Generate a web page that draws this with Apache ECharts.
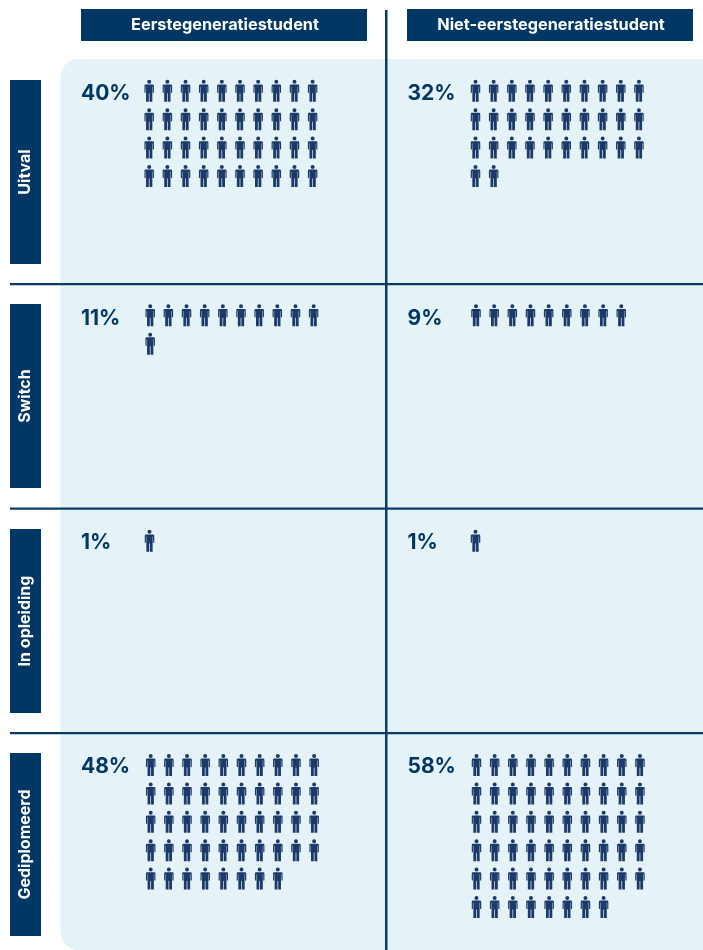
<!DOCTYPE html>
<html><head><meta charset="utf-8">
<style>html,body{margin:0;padding:0;background:#fff}#c{width:703px;height:950px}</style>
<script src="https://cdn.jsdelivr.net/npm/echarts@6/dist/echarts.min.js"></script>
</head><body><div id="c"></div>
<script>
const columnNames = ['Eerstegeneratiestudent', 'Niet-eerstegeneratiestudent'];
const rowNames = ['Uitval', 'Switch', 'In opleiding', 'Gediplomeerd'];
const eerstegeneratie = [40, 11, 1, 48];
const nietEerstegeneratie = [32, 9, 1, 58];
const valuesByColumn = [eerstegeneratie, nietEerstegeneratie];

const NAVY = '#003764', ICON = '#1b3a69', PANEL = '#e5f2f8', LINE = '#083c66';
const FONT = 'Inter, "Noto Sans", sans-serif';
const PERSON = 'path://M4.75 0A2 2 0 1 1 4.75 4A2 2 0 1 1 4.75 0ZM1.2 4.6H8.3Q9.5 4.6 9.5 6V13H8.3V6.6H7.9V22H5.1V13.5H4.4V22H1.6V6.6H1.2V13H0V6Q0 4.6 1.2 4.6Z';

const STEP_X = 18.16, STEP_Y = 28.4, COLS = 10, ROWS = 6;
const firstX = [[149.2, 150.2, 149.5, 150.7], [475.5, 476, 475.5, 476.5]];
const firstY = [90.8, 315.3, 540.8, 765];
const rowBar = [[80, 184], [304, 184], [529, 184], [753, 183]];
const pctY = [93.5, 318.5, 542.5, 767];
const pctX = [81, 407.5];

const graphic = [
  {type:'rect', z:0, shape:{x:60.5,y:59,width:700,height:891,r:18}, style:{fill:PANEL}},
  {type:'rect', z:1, shape:{x:385,y:10,width:2.5,height:940}, style:{fill:LINE}},
];
[283, 507.5, 732].forEach(y => graphic.push({type:'rect', z:1, shape:{x:10,y:y,width:693,height:2.2}, style:{fill:LINE}}));
[[81,286],[407,286]].forEach((b,i) => {
  graphic.push({type:'rect', z:2, shape:{x:b[0],y:9,width:b[1],height:32}, style:{fill:NAVY}});
  graphic.push({type:'text', z:3, x:b[0]+b[1]/2+(i?1:1), y:25, style:{text:columnNames[i], fill:'#fff', font:'700 16.3px '+FONT, align:'center', verticalAlign:'middle'}});
});
rowNames.forEach((n,i) => {
  graphic.push({type:'rect', z:2, shape:{x:10,y:rowBar[i][0],width:31,height:rowBar[i][1]}, style:{fill:NAVY}});
  graphic.push({type:'text', z:3, x:25, y:rowBar[i][0]+rowBar[i][1]/2, rotation:Math.PI/2, style:{text:n, fill:'#fff', font:'700 16px '+FONT, align:'center', verticalAlign:'middle'}});
  valuesByColumn.forEach((vals,c) => graphic.push({type:'text', z:3, x:pctX[c], y:pctY[i], style:{text:vals[i]+'%', fill:NAVY, font:'700 21px '+FONT, align:'left', verticalAlign:'middle'}}));
});

const grids=[], xAxes=[], yAxes=[], series=[];
valuesByColumn.forEach((vals,c) => vals.forEach((v,r) => {
  const k = grids.length;
  grids.push({left:firstX[c][r]-STEP_X/2, top:firstY[r]-STEP_Y/2, width:STEP_X*COLS, height:STEP_Y*ROWS});
  xAxes.push({gridIndex:k, type:'value', min:-0.5, max:COLS-0.5, show:false});
  yAxes.push({gridIndex:k, type:'value', min:-0.5, max:ROWS-0.5, inverse:true, show:false});
  const pts=[];
  for(let i=0;i<v;i++) pts.push([i%COLS, Math.floor(i/COLS)]);
  series.push({type:'scatter', name:columnNames[c]+' – '+rowNames[r], xAxisIndex:k, yAxisIndex:k, data:pts,
    symbol:PERSON, symbolSize:[9.5,22], itemStyle:{color:ICON, opacity:1}, silent:true, animation:false, z:4});
}));

const chart = echarts.init(document.getElementById('c'), null, {renderer:'canvas'});
chart.setOption({animation:false, backgroundColor:'#fff', grid:grids, xAxis:xAxes, yAxis:yAxes, series, graphic:{elements:graphic}});
</script></body></html>
